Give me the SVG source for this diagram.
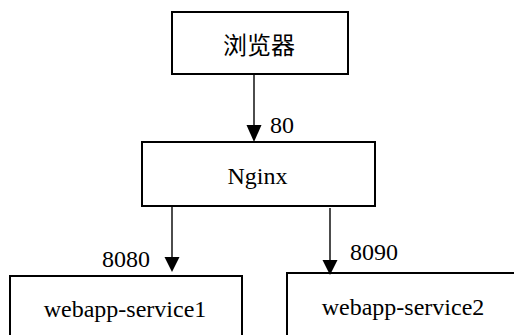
<svg xmlns="http://www.w3.org/2000/svg" width="514" height="335" viewBox="0 0 514 335" font-family="'Liberation Serif', 'Times New Roman', 'Noto Sans CJK SC', serif" font-size="24">
<style>
.box{fill:#fff;stroke:#000;stroke-width:2}
.ln{stroke:#000;stroke-width:1.4;fill:none}
.hd{fill:#000}
.t{font-family:'Liberation Serif','Times New Roman','Noto Sans CJK SC',serif;font-size:24px;fill:#000}
.c{text-anchor:middle}
</style>
<rect width="514" height="335" fill="#fff"/>
<g id="browser">
<rect class="box" x="172" y="12" width="176" height="62"/>
<text class="t c" x="259" y="54" font-size="22">浏览器</text>
</g>
<g id="nginx">
<rect class="box" x="142" y="142" width="233" height="64"/>
<text class="t c" x="257.5" y="184">Nginx</text>
</g>
<g id="service1">
<rect class="box" x="10" y="276" width="232" height="70"/>
<text class="t c" x="125" y="317">webapp-service1</text>
</g>
<g id="service2">
<rect class="box" x="287" y="273" width="240" height="70"/>
<text class="t c" x="403" y="315">webapp-service2</text>
</g>
<g id="connectors">
<line class="ln" x1="254" y1="74" x2="254" y2="127"/>
<polygon class="hd" points="246.5,125 261.5,125 254,142"/>
<text class="t" x="270" y="133">80</text>
<line class="ln" x1="172" y1="206" x2="172" y2="259"/>
<polygon class="hd" points="164.5,257 179.5,257 172,272"/>
<text class="t" x="102" y="267">8080</text>
<line class="ln" x1="330" y1="208" x2="330" y2="262"/>
<polygon class="hd" points="322.5,260 337.5,260 330,275"/>
<text class="t" x="350" y="260">8090</text>
</g>
</svg>
